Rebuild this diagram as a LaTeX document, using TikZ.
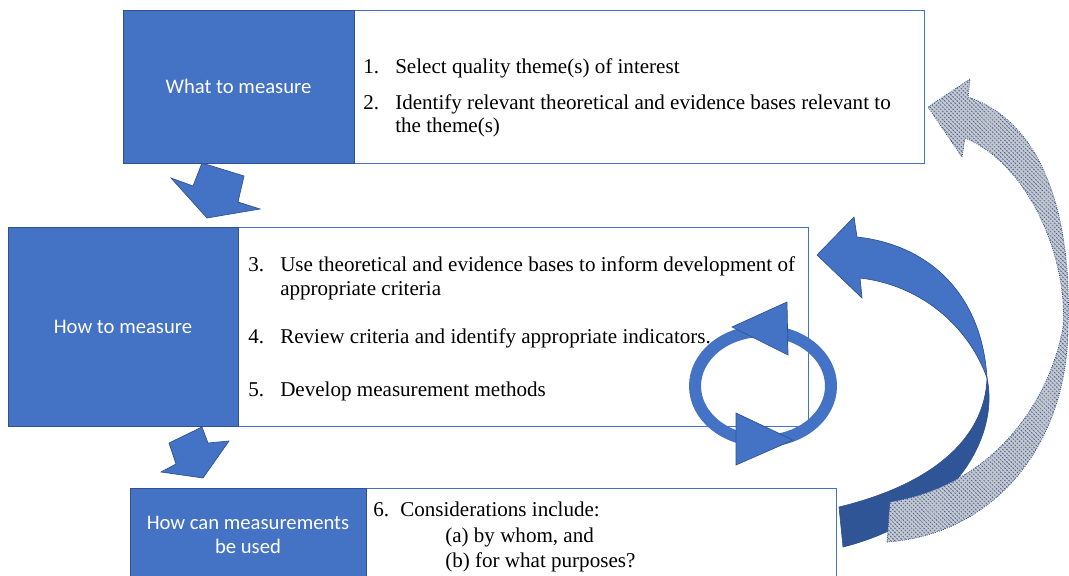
\documentclass[tikz,border=0pt]{standalone}
\usepackage{fontspec}
\setmainfont{Liberation Serif}
\newfontfamily\labelfont{Carlito}
\usepackage{tikz}
\usetikzlibrary{patterns.meta}

\definecolor{officeblue}{HTML}{4472C4}
\definecolor{edgeblue}{HTML}{2F528F}
\definecolor{backblue}{HTML}{2F5597}
\definecolor{hatchgray}{HTML}{C4C8D0}

\begin{document}
\begin{tikzpicture}[x=0.75pt, y=-0.75pt,
    bluebox/.style={anchor=north west, outer sep=0pt, fill=officeblue, draw=edgeblue,
        line width=0.5pt, text=white, align=center,
        font=\labelfont\fontsize{15.5}{18}\selectfont},
    listbox/.style={anchor=north west, outer sep=0pt, fill=white, draw=officeblue, line width=0.6pt},
    item/.style={anchor=base west, inner sep=0pt, font=\fontsize{15.8}{17.3}\selectfont},
    blockarrow/.style={fill=officeblue, draw=edgeblue, line width=0.5pt}]
    \useasboundingbox (0,0) rectangle (1069,575);

    % boxes
    \node[listbox, minimum width=427.5pt, minimum height=114.75pt] (whatlist) at (354,10) {};
    \node[bluebox, minimum width=173.25pt, minimum height=114.75pt] (what) at (123,10) {What to measure};
    \node[listbox, minimum width=427.5pt, minimum height=149.25pt] (howlist) at (238,227) {};
    \node[bluebox, minimum width=172.5pt, minimum height=149.25pt] (how) at (8,227) {How to measure};
    \node[listbox, minimum width=352.5pt, minimum height=70.5pt] (uselist) at (366,488) {};
    \node[bluebox, minimum width=177pt, minimum height=70.5pt] (use) at (130,488) {How can measurements\\be used};

    % list texts
    \node[item] (n1) at (363,73) {1.};
    \node[item] (t1) at (395,73) {Select quality theme(s) of interest};
    \node[item] (n2) at (363,109) {2.};
    \node[item] (t2) at (395,109) {Identify relevant theoretical and evidence bases relevant to};
    \node[item] (t2b) at (395,132) {the theme(s)};
    \node[item] (n3) at (248,271) {3.};
    \node[item] (t3) at (280,271) {Use theoretical and evidence bases to inform development of};
    \node[item] (t3b) at (280,295) {appropriate criteria};
    \node[item] (n4) at (248,343) {4.};
    \node[item] (t4) at (280,343) {Review criteria and identify appropriate indicators.};
    \node[item] (n5) at (248,396) {5.};
    \node[item] (t5) at (280,396) {Develop measurement methods};
    \node[item] (n6) at (373,516) {6.};
    \node[item] (t6) at (400,516) {Considerations include:};
    \node[item] (t6a) at (445,542) {(a) by whom, and};
    \node[item] (t6b) at (445,567) {(b) for what purposes?};

    % block arrows between the boxes
    \filldraw[blockarrow] (202,163) -- (244,176) -- (238,202) -- (260,209)
        -- (207,218) -- (171,178) -- (193,186) -- cycle;
    \filldraw[blockarrow] (169,443) -- (202,427) -- (208,443) -- (229,441)
        -- (203,478) -- (161,472) -- (176,464) -- cycle;

    % loop round steps 4 and 5
    \draw[officeblue, line width=9pt] (763,386) ellipse [x radius=51pt, y radius=41.25pt];
    \filldraw[blockarrow] (732,327) -- (787,302) -- (788,355) -- cycle;
    \filldraw[blockarrow] (736,413) -- (793,440) -- (736,465) -- cycle;

    % twisted arrow back to how to measure
    \filldraw[fill=backblue, draw=edgeblue, line width=0.5pt] (987,378)
        .. controls (1000,440) and (950,520) .. (843,547) -- (839,507)
        .. controls (930,485) and (985,440) .. (987,378) -- cycle;
    \filldraw[fill=officeblue, draw=edgeblue, line width=0.5pt] (857,237) -- (854,217)
        -- (817,255) -- (862,298) -- (860,278)
        .. controls (920,285) and (968,325) .. (987,378)
        .. controls (982,295) and (930,245) .. (857,237) -- cycle;

    % hatched arrow back to what to measure
    \fill[hatchgray] (887,542) -- (890,502)
        .. controls (995,485) and (1050,400) .. (1063,327)
        .. controls (1068,260) and (1030,165) .. (965,138)
        -- (962,157) -- (928,107) -- (970,79) -- (968,97)
        .. controls (1050,125) and (1072,230) .. (1068,330)
        .. controls (1066,450) and (990,535) .. (887,542) -- cycle;
    \draw[pattern={Lines[angle=-45, distance=2.2pt, line width=0.6pt]},
        pattern color=edgeblue!75!gray, draw=edgeblue, densely dotted, line width=0.6pt]
        (887,542) -- (890,502)
        .. controls (995,485) and (1050,400) .. (1063,327)
        .. controls (1068,260) and (1030,165) .. (965,138)
        -- (962,157) -- (928,107) -- (970,79) -- (968,97)
        .. controls (1050,125) and (1072,230) .. (1068,330)
        .. controls (1066,450) and (990,535) .. (887,542) -- cycle;
\end{tikzpicture}
\end{document}
